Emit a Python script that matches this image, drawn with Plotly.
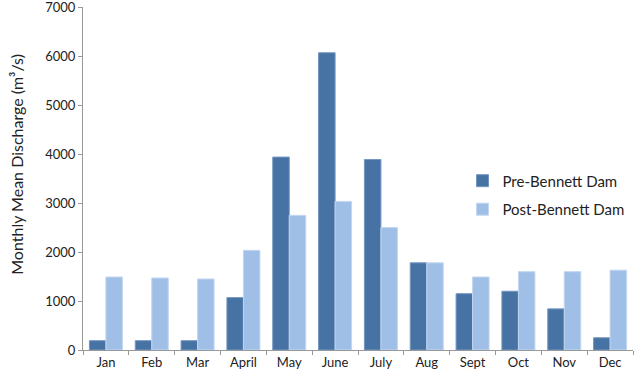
import plotly.graph_objects as go

months = ["Jan", "Feb", "Mar", "April", "May", "June", "July", "Aug", "Sept", "Oct", "Nov", "Dec"]
pre_bennett = [190, 190, 190, 1070, 3940, 6070, 3890, 1780, 1150, 1200, 840, 250]
post_bennett = [1490, 1470, 1450, 2035, 2750, 3035, 2500, 1780, 1490, 1600, 1600, 1630]
y_ticks = [0, 1000, 2000, 3000, 4000, 5000, 6000, 7000]

font_family = "Lato, 'Open Sans', sans-serif"

fig = go.Figure()
fig.add_trace(go.Bar(
    x=months, y=pre_bennett, name="Pre-Bennett Dam",
    marker=dict(color="#4672A4", line=dict(color="#7396C0", width=1)),
    legendgroup="a",
))
fig.add_trace(go.Bar(
    x=months, y=post_bennett, name="Post-Bennett Dam",
    marker=dict(color="#A0BFE6", line=dict(color="#C2D6F0", width=1)),
    legendgroup="b",
))

fig.update_layout(
    width=635, height=374,
    margin=dict(l=83, r=2, t=7, b=24, autoexpand=False),
    paper_bgcolor="white", plot_bgcolor="white",
    barmode="group", bargap=0.28, bargroupgap=0,
    font=dict(family=font_family, size=13, color="#222"),
    showlegend=True,
    legend=dict(
        x=0.69, y=0.541, xanchor="left", yanchor="top",
        font=dict(size=15, color="#222"),
        tracegroupgap=6, bgcolor="rgba(0,0,0,0)",
    ),
    xaxis=dict(
        showline=True, linecolor="#999", linewidth=1,
        ticks="outside", tickson="boundaries", ticklen=4, tickcolor="#999",
        showgrid=False, tickfont=dict(size=13, color="#222"), automargin=False,
    ),
    yaxis=dict(
        range=[0, 7005], tickvals=y_ticks,
        showline=True, linecolor="#999", linewidth=1,
        ticks="outside", ticklen=4, tickcolor="#999",
        showgrid=False, zeroline=False, automargin=False,
        ticklabeloverflow="allow",
        tickfont=dict(size=13, color="#222"),
    ),
    annotations=[dict(
        text="Monthly Mean Discharge (m³/s)", textangle=-90,
        xref="paper", yref="paper",
        x=-0.12, y=0.54, xanchor="center", yanchor="middle",
        showarrow=False, font=dict(size=16, color="#222"),
    )],
)

fig.write_html(
    "out.html",
    config={"displayModeBar": False},
    post_script="document.body.style.margin='0';document.body.style.padding='0';",
)
